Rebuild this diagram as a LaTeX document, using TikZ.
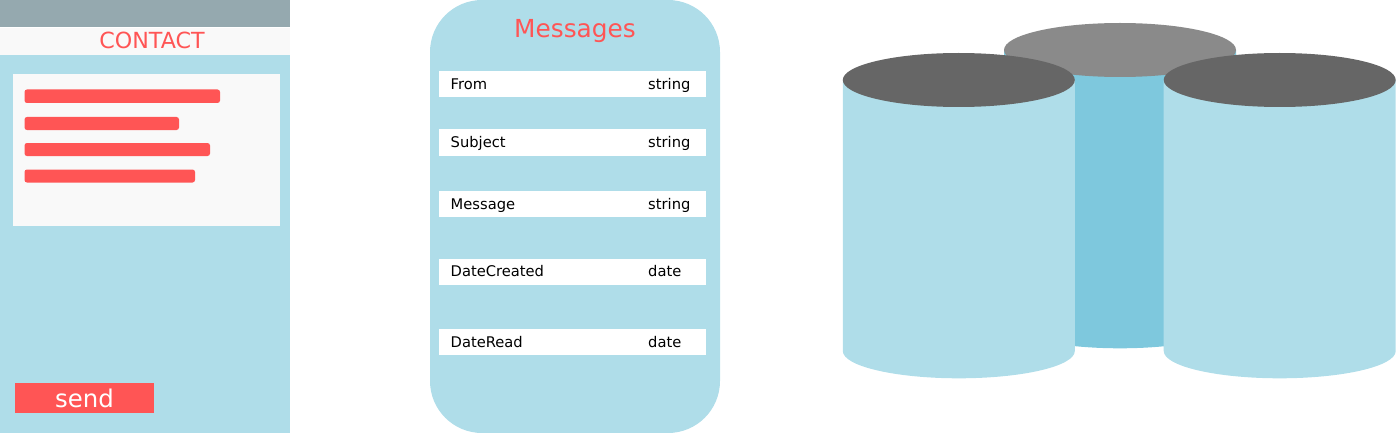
\documentclass[tikz,border=0pt]{standalone}
\usepackage{fontspec}
\setmainfont{DejaVu Sans}
\definecolor{panelblue}{HTML}{AFDDE9}
\definecolor{midblue}{HTML}{7EC8DD}
\definecolor{topgray}{HTML}{95A9AF}
\definecolor{offwhite}{HTML}{F9F9F9}
\definecolor{redbar}{HTML}{FF5555}
\definecolor{darktop}{HTML}{666666}
\definecolor{midtop}{HTML}{8A8A8A}
\tikzset{
  flat/.style={fill=#1,draw=none},
  redline/.style={fill=redbar,draw=none,rounded corners=2.5pt},
  fieldtext/.style={anchor=base west,inner sep=0pt,text=black,font=\fontsize{14.7}{14.7}\selectfont},
  heading/.style={anchor=base,inner sep=0pt,text=redbar},
}
\newcommand{\cyl}[4]{% x-left, top centre y, bottom centre y, body colour
  \fill[#4] (#1,#2) -- ++(232,0) -- (#1+232,#3) arc[start angle=0,end angle=180,x radius=116,y radius=27.3] -- cycle;
}
\begin{document}
\begin{tikzpicture}[x=1pt,y=-1pt]
\useasboundingbox (0,0) rectangle (1396,433);
% contact panel
\fill[flat=panelblue] (0,55) rectangle (290,433);
\fill[flat=topgray] (0,0) rectangle (290,27);
\fill[flat=offwhite] (0,28) rectangle (290,55);
\node[heading,font=\fontsize{22.2}{22.2}\selectfont] (contact) at (152,49) {CONTACT};
\fill[flat=offwhite] (13,74) rectangle (280,226);
\fill[redline] (24.5,89.5) rectangle (220,103);
\fill[redline] (24.5,117) rectangle (179,130);
\fill[redline] (24.5,143) rectangle (210,156);
\fill[redline] (24.5,169.5) rectangle (195,182.5);
\fill[flat=redbar] (15,383) rectangle (154,413);
\node[anchor=base,inner sep=0pt,text=white,font=\fontsize{24.4}{24.4}\selectfont] (send) at (84.5,407) {send};
% messages
\fill[flat=panelblue,rounded corners=52pt] (430,0) rectangle (720,433);
\node[heading,font=\fontsize{24.8}{24.8}\selectfont] (messages) at (575,37.7) {Messages};
\foreach \top/\name/\kind/\id in {71/From/string/a,129.2/Subject/string/b,190.6/Message/string/c,258.5/DateCreated/date/d,328.7/DateRead/date/e}{
  \fill[white] (439,\top) rectangle (706,\top+26.5);
  \node[fieldtext] (name\id) at (450.5,\top+18.4) {\name};
  \node[fieldtext] (kind\id) at (648,\top+18.4) {\kind};
}
% cylinders
\cyl{1004}{50}{321}{midblue}
\fill[midtop] (1120,50) ellipse[x radius=116,y radius=27];
\cyl{842.8}{80}{351}{panelblue}
\fill[darktop] (958.8,80) ellipse[x radius=116,y radius=27];
\cyl{1163.7}{80}{351}{panelblue}
\fill[darktop] (1279.7,80) ellipse[x radius=116,y radius=27];
\end{tikzpicture}
\end{document}
